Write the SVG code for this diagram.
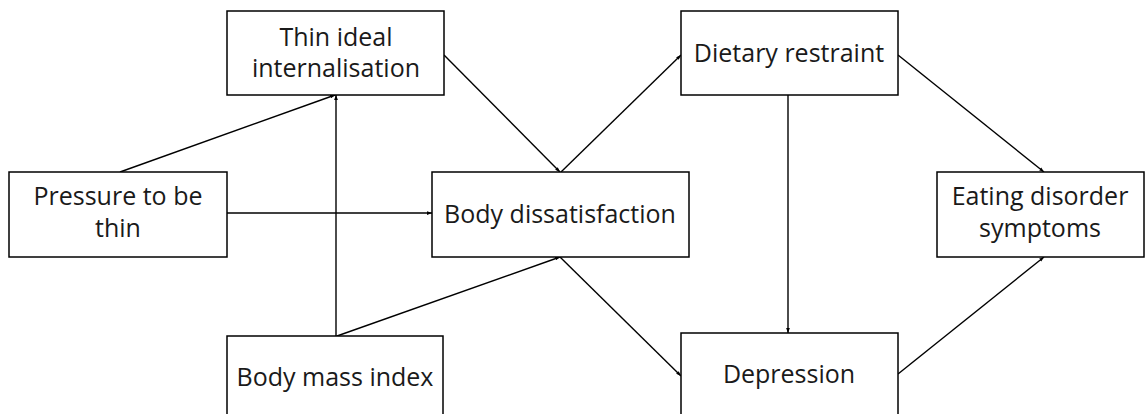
<svg xmlns="http://www.w3.org/2000/svg" width="1145" height="414" viewBox="0 0 1145 414">
  <defs>
    <marker id="arrow" viewBox="0 0 8 6" refX="8" refY="3" markerWidth="5" markerHeight="4" markerUnits="userSpaceOnUse" orient="auto">
      <path d="M0,0 L8,3 L0,6 Z" fill="#000"/>
    </marker>
    <style>
      .box { fill: #fff; stroke: #000; stroke-width: 1.5; }
      .lbl { font-family: "Open Sans", "Liberation Sans", sans-serif; font-size: 25px; fill: #1a1a1a; text-anchor: middle; }
      .edge { stroke: #000; stroke-width: 1.4; fill: none; marker-end: url(#arrow); }
    </style>
  </defs>
  <rect width="1145" height="414" fill="#fff"/>

  <g id="connectors">
    <line class="edge" x1="120" y1="172" x2="335" y2="95"/>
    <line class="edge" x1="336" y1="336" x2="336" y2="95"/>
    <line class="edge" x1="337" y1="336" x2="560" y2="257"/>
    <line class="edge" x1="227" y1="213" x2="432" y2="213"/>
    <line class="edge" x1="444" y1="55" x2="560" y2="172"/>
    <line class="edge" x1="561" y1="172" x2="681" y2="55"/>
    <line class="edge" x1="788" y1="95" x2="788" y2="333"/>
    <line class="edge" x1="898" y1="55" x2="1044" y2="172"/>
    <line class="edge" x1="898" y1="374" x2="1044" y2="257"/>
    <line class="edge" x1="560" y1="257" x2="681" y2="376"/>
  </g>

  <g id="thin-ideal">
    <rect class="box" x="227" y="11" width="217" height="84"/>
    <text class="lbl" x="336" y="46">Thin ideal</text>
    <text class="lbl" x="336" y="77">internalisation</text>
  </g>

  <g id="pressure">
    <rect class="box" x="9" y="172" width="218" height="85"/>
    <text class="lbl" x="118" y="205">Pressure to be</text>
    <text class="lbl" x="118" y="237">thin</text>
  </g>

  <g id="body-dissatisfaction">
    <rect class="box" x="432" y="172" width="257" height="85"/>
    <text class="lbl" x="560" y="223">Body dissatisfaction</text>
  </g>

  <g id="body-mass-index">
    <rect class="box" x="227" y="336" width="216" height="90"/>
    <text class="lbl" x="335" y="386">Body mass index</text>
  </g>

  <g id="dietary-restraint">
    <rect class="box" x="681" y="11" width="217" height="84"/>
    <text class="lbl" x="789" y="62">Dietary restraint</text>
  </g>

  <g id="depression">
    <rect class="box" x="681" y="333" width="217" height="90"/>
    <text class="lbl" x="789" y="383">Depression</text>
  </g>

  <g id="eating-disorder">
    <rect class="box" x="937" y="172" width="207" height="85"/>
    <text class="lbl" x="1040" y="205">Eating disorder</text>
    <text class="lbl" x="1040" y="237">symptoms</text>
  </g>
</svg>
